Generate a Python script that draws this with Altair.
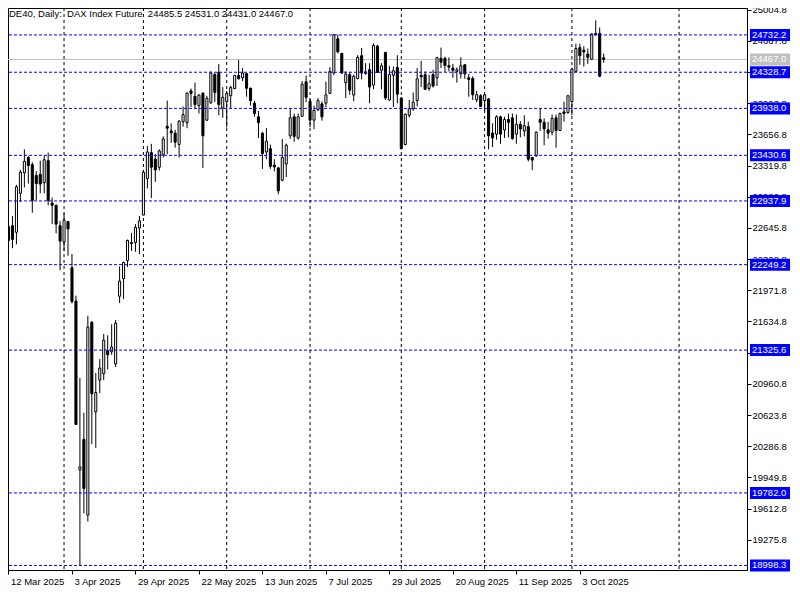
import json
import altair as alt
import pandas as pd

# ---- OHLC values (daily bars, 12 Mar 2025 .. 13 Oct 2025) ----
opens = [22659, 22670, 22599, 23020, 23242, 23407, 23330, 23214, 23225, 23136,
         23373, 22915, 22891, 22670, 22493, 22715, 22216, 21855, 20031, 20361,
         19542, 21626, 20660, 21001, 21071, 21317, 21307, 21176, 21908, 22097,
         22293, 22487, 22487, 22645, 22785, 23179, 23460, 23389, 23302, 23436,
         23745, 23695, 23671, 23548, 23794, 23784, 24127, 24068, 23969, 24103,
         23811, 23998, 24303, 24327, 23942, 24011, 24075, 24153, 24293, 24268,
         24314, 24156, 23994, 23847, 23671, 23467, 23502, 23326, 23295, 23162,
         23337, 23642, 23847, 23618, 23853, 24226, 24015, 23811, 23924, 23987,
         23994, 24100, 24321, 24690, 24532, 24216, 24303, 24082, 24261, 24507,
         24314, 24356, 24190, 24612, 24349, 24543, 24029, 24296, 24380, 24050,
         23548, 23864, 23934, 24022, 24296, 24303, 24153, 24303, 24268, 24479,
         24479, 24401, 24374, 24338, 24311, 24409, 24268, 24261, 24032, 24075,
         24022, 24040, 23671, 23660, 23847, 23706, 23818, 23836, 23660, 23766,
         23695, 23741, 23407, 23425, 23818, 23787, 23706, 23681, 23836, 23699,
         23900, 23892, 24011, 24338, 24595, 24567, 24525, 24469, 24735, 24749,
         24485.5]
highs = [22680, 22775, 23112, 23273, 23495, 23425, 23355, 23260, 23373, 23425,
         23460, 22975, 22898, 22722, 22803, 22722, 22364, 21914, 21025, 20649,
         21697, 21640, 21078, 21229, 21500, 21486, 21605, 21650, 22230, 22283,
         22520, 22593, 22687, 22775, 23270, 23531, 23555, 23442, 23495, 23636,
         24022, 23776, 23706, 23811, 23959, 24110, 24153, 24216, 24092, 24110,
         24075, 24338, 24321, 24416, 24169, 24127, 24180, 24300, 24461, 24374,
         24321, 24163, 24019, 23910, 23680, 23724, 23548, 23389, 23302, 23608,
         23558, 23934, 23882, 23882, 24233, 24293, 24040, 23969, 24050, 24015,
         24226, 24384, 24743, 24735, 24538, 24338, 24332, 24303, 24514, 24591,
         24427, 24427, 24641, 24625, 24427, 24549, 24398, 24391, 24514, 24060,
         23882, 24029, 24110, 24374, 24451, 24338, 24303, 24356, 24496, 24595,
         24496, 24490, 24419, 24380, 24490, 24419, 24311, 24285, 24127, 24092,
         24092, 24050, 23776, 23864, 23857, 23847, 23882, 23882, 23871, 23800,
         23864, 23794, 23415, 23689, 23934, 23829, 23794, 23871, 23871, 23892,
         24011, 24082, 24374, 24637, 24637, 24609, 24585, 24749, 24890, 24812,
         24531.0]
lows = [22490, 22427, 22469, 22926, 23084, 23126, 22810, 22944, 23021, 23021,
        22891, 22687, 22588, 22188, 22399, 22346, 21830, 20516, 18998, 19560,
        19473, 20309, 20270, 20860, 21001, 21117, 21275, 21141, 21834, 21879,
        22224, 22399, 22388, 22364, 22782, 23073, 22968, 23144, 23267, 23407,
        23442, 23565, 23513, 23407, 23741, 23724, 23952, 23934, 23882, 23295,
        23800, 23987, 24005, 23864, 23836, 23731, 23942, 24145, 24251, 24233,
        24064, 23969, 23850, 23618, 23284, 23389, 23284, 23257, 23010, 23150,
        23196, 23608, 23576, 23600, 23847, 24005, 23734, 23713, 23910, 23805,
        23952, 24092, 24296, 24532, 24311, 24050, 24085, 24015, 24251, 24251,
        24303, 23994, 24145, 24321, 24145, 24029, 24020, 23952, 23994, 23495,
        23537, 23839, 23910, 23959, 24169, 24135, 24127, 24163, 24180, 24374,
        24332, 24338, 24268, 24216, 24261, 24258, 24064, 24029, 24005, 23950,
        23910, 23495, 23520, 23600, 23555, 23618, 23625, 23600, 23555, 23625,
        23636, 23365, 23273, 23415, 23695, 23541, 23611, 23647, 23513, 23695,
        23794, 23882, 23864, 24327, 24409, 24391, 24419, 24460, 24725, 24275,
        24431.0]
closes = [22511, 22522, 23091, 23249, 23365, 23320, 22944, 23126, 23120, 23383,
          22944, 22891, 22687, 22504, 22730, 22635, 21851, 20522, 20063, 19831,
          21573, 20854, 20867, 21131, 21433, 21275, 21359, 21616, 22072, 22272,
          22511, 22477, 22652, 22722, 23249, 23467, 23302, 23273, 23478, 23608,
          23724, 23674, 23573, 23800, 23871, 24103, 24100, 23980, 24082, 23642,
          24047, 24321, 24110, 23980, 24058, 24100, 24163, 24293, 24258, 24321,
          24156, 24022, 23882, 23784, 23449, 23583, 23312, 23305, 23046, 23407,
          23541, 23836, 23636, 23847, 24198, 24058, 23811, 23916, 24022, 23847,
          24085, 24338, 24735, 24549, 24321, 24311, 24135, 24285, 24490, 24321,
          24332, 24169, 24619, 24327, 24398, 24050, 24303, 24345, 24092, 23502,
          23874, 23934, 24005, 24258, 24279, 24145, 24205, 24180, 24486, 24437,
          24401, 24384, 24349, 24356, 24398, 24311, 24251, 24085, 24085, 23959,
          24085, 23642, 23618, 23847, 23660, 23818, 23787, 23611, 23766, 23716,
          23752, 23389, 23379, 23681, 23787, 23716, 23671, 23829, 23699, 23882,
          23882, 24075, 24363, 24585, 24507, 24549, 24490, 24743, 24749, 24285,
          24467.0]

# date labels every 16 bars
date_labels = ["12 Mar 2025", "3 Apr 2025", "29 Apr 2025", "22 May 2025", "13 Jun 2025",
               "7 Jul 2025", "29 Jul 2025", "20 Aug 2025", "11 Sep 2025", "3 Oct 2025"]
date_label_bars = [0, 16, 32, 48, 64, 80, 96, 112, 128, 144]
# vertical (month) grid separators, in bar units
month_grid_bars = [14, 34, 55, 76, 99, 120, 142, 169]

price_ticks = [25004.8, 24667.8, 24330.8, 23993.8, 23656.8, 23319.8, 22982.8, 22645.8,
               22308.8, 21971.8, 21634.8, 21297.8, 20960.8, 20623.8, 20286.8, 19949.8,
               19612.8, 19275.8]
levels = [24732.2, 24328.7, 23938.0, 23430.6, 22937.9, 22249.2, 21325.6, 19782.0, 18998.3]
current_price = [24467.0]

symbol_text = "DE40, Daily:"
description = "DAX Index Future"

FONT = "Liberation Sans"
FS = 9.5

n = len(opens)
df = pd.DataFrame({"bar": list(range(n)), "open": opens, "high": highs,
                   "low": lows, "close": closes})

xs = alt.Scale(domain=[-0.125, 186.125], nice=False, zero=False)
ys = alt.Scale(domain=[18949, 25023], nice=False, zero=False)

label_expr = "{}[indexof({}, datum.value)]".format(json.dumps(date_labels),
                                                   json.dumps(date_label_bars))

x_axis = alt.Axis(values=date_label_bars, labelExpr=label_expr, labelAlign="left",
                  labelBaseline="top", labelPadding=2, labelOffset=2, tickSize=4,
                  tickColor="black", domainColor="black", labelColor="black",
                  grid=False, labelFlush=False, labelOverlap=False, title=None,
                  labelFont=FONT, labelFontSize=FS)
y_axis = alt.Axis(orient="right", values=price_ticks, format=".1f", labelPadding=1,
                  tickSize=4, tickColor="black", domainColor="black", labelColor="black",
                  labelBaseline="middle", grid=False, labelFlush=False, labelOverlap=False,
                  title=None, labelFont=FONT, labelFontSize=FS)


def X(field):
    return alt.X(field, scale=xs, axis=x_axis)


def Y(field):
    return alt.Y(field, scale=ys, axis=y_axis)


grid = alt.Chart(pd.DataFrame({"bar": month_grid_bars})).mark_rule(
    color="black", strokeDash=[3, 3], strokeWidth=1
).encode(x=X("bar:Q"))

cur_df = pd.DataFrame({"price": current_price})
cur_line = alt.Chart(cur_df).mark_rule(color="#C0C0C0", strokeWidth=1).encode(y=Y("price:Q"))

wicks = alt.Chart(df).mark_rule(color="black", strokeWidth=1).encode(
    x=X("bar:Q"), y=Y("low:Q"), y2="high:Q",
)

bodies = alt.Chart(df).transform_calculate(
    x0="datum.bar - 0.26", x1="datum.bar + 0.26"
).mark_rect(stroke="black", strokeWidth=1).encode(
    x=X("x0:Q"), x2="x1:Q", y=Y("open:Q"), y2="close:Q",
    fill=alt.condition("datum.close >= datum.open", alt.value("white"), alt.value("black")),
)

lv_df = pd.DataFrame({"price": levels})
level_lines = alt.Chart(lv_df).mark_rule(
    color="#0000FF", strokeDash=[3, 2], strokeWidth=1
).encode(y=Y("price:Q"))

BOX = "M-1,-0.3L1,-0.3L1,0.3L-1,0.3Z"
level_boxes = alt.Chart(lv_df).mark_point(
    shape=BOX, filled=True, size=1600, fill="#0000FF", opacity=1, strokeWidth=0
).encode(x=alt.value(762), y=Y("price:Q"))

level_text = alt.Chart(lv_df).mark_text(
    align="left", baseline="middle", color="white", font=FONT, fontSize=FS
).encode(x=alt.value(744), y=Y("price:Q"), text=alt.Text("price:Q", format=".1f"))

cur_box = alt.Chart(cur_df).mark_point(
    shape=BOX, filled=True, size=1600, fill="#C0C0C0", opacity=1, strokeWidth=0
).encode(x=alt.value(762), y=Y("price:Q"))
cur_text = alt.Chart(cur_df).mark_text(
    align="left", baseline="middle", color="white", font=FONT, fontSize=FS
).encode(x=alt.value(744), y=Y("price:Q"), text=alt.Text("price:Q", format=".1f"))

sp = "\u00a0\u00a0"
title_str = "{}{}{}{}{:.1f} {:.1f} {:.1f} {:.1f}".format(
    symbol_text, sp, description, sp, opens[-1], highs[-1], lows[-1], closes[-1])
title = alt.Chart(pd.DataFrame({"t": [title_str]})).mark_text(
    align="left", baseline="top", color="black", font=FONT, fontSize=FS
).encode(x=alt.value(1), y=alt.value(1), text="t:N")

chart = alt.layer(
    grid, cur_line, wicks, bodies, level_lines, cur_box, cur_text,
    level_boxes, level_text, title
).properties(
    width=739, height=562,
    padding={"left": 0, "top": 0, "right": 45, "bottom": 18},
    autosize=alt.AutoSizeParams(type="none"),
    background="white",
).configure_view(stroke="black", strokeWidth=1)

chart.save("out.html", embed_options={"renderer": "svg", "actions": False})
